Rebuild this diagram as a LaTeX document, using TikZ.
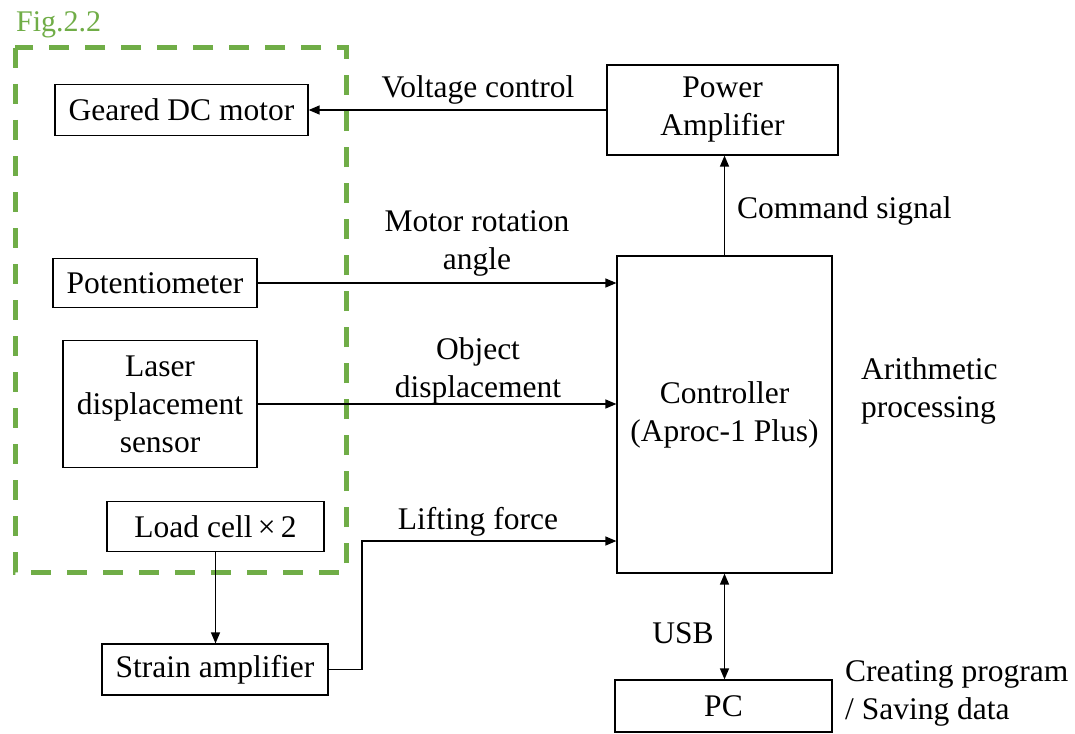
\documentclass[tikz,border=0pt]{standalone}
\usepackage{fontspec}
\setmainfont{Liberation Serif}
\usetikzlibrary{arrows.meta}
\definecolor{figgreen}{RGB}{112,173,71}
\begin{document}
\begin{tikzpicture}[x=1pt,y=-1pt,
  every node/.style={font=\fontsize{31.5}{38}\selectfont},
  blk/.style={draw,line width=1.2pt,inner sep=0pt,align=center},
  lbl/.style={inner sep=0pt,align=center},
  arr/.style={line width=1.3pt,-{Triangle[length=11pt,width=9pt]}},
  darr/.style={line width=1.3pt,{Triangle[length=11pt,width=9pt]}-{Triangle[length=11pt,width=9pt]}},
  grp/.style={draw=figgreen,line width=5pt,dash pattern=on 20pt off 16pt}]
\useasboundingbox (0,0) rectangle (1075,733);
\fill[white] (0,0) rectangle (1075,733);
% group
\draw[grp] (15,48) rectangle (346,572);
\node[lbl,anchor=base west,text=figgreen,font=\fontsize{30}{36}\selectfont] (fig) at (16,32) {Fig.2.2};
% blocks
\node[blk,minimum width=253pt,minimum height=51pt] (motor) at (181.5,110) {Geared DC motor};
\node[blk,minimum width=231pt,minimum height=90pt] (pa) at (722.5,110) {Power\\Amplifier};
\node[blk,minimum width=204pt,minimum height=49pt] (pot) at (155,283) {Potentiometer};
\node[blk,minimum width=194pt,minimum height=127pt] (laser) at (160,404) {Laser\\displacement\\sensor};
\node[blk,minimum width=217pt,minimum height=50pt] (load) at (215.5,526.5) {Load cell\,×\,2};
\node[blk,minimum width=226pt,minimum height=51pt] (strain) at (215,669.5) {Strain amplifier};
\node[blk,minimum width=215pt,minimum height=317pt] (ctrl) at (724.5,414.5) {Controller\\(Aproc-1 Plus)};
\node[blk,minimum width=217pt,minimum height=52pt] (pc) at (723.5,706) {PC};
% connectors
\draw[arr] (pa.west) -- (motor.east);
\draw[arr] (ctrl.north) -- (ctrl.north |- pa.south);
\draw[arr] (pot.east) -- (pot.east -| ctrl.west);
\draw[arr] (laser.east) -- (laser.east -| ctrl.west);
\draw[arr] (load.south) -- (load.south |- strain.north);
\coordinate (bend) at (362,541);
\draw[arr] (strain.east) -| (bend) -- (bend -| ctrl.west);
\draw[darr] (ctrl.south) -- (ctrl.south |- pc.north);
% labels
\node[lbl,anchor=base] (lv) at (478,98) {Voltage control};
\node[lbl,anchor=base west] (lc) at (737,218) {Command signal};
\node[lbl,anchor=base] (lm) at (477,269) {Motor rotation\\angle};
\node[lbl,anchor=base] (lo) at (478,397) {Object\\displacement};
\node[lbl,anchor=base] (ll) at (478,529) {Lifting force};
\node[lbl,anchor=base] (lu) at (683,643) {USB};
\node[lbl,anchor=base west,align=left] (la) at (861,417) {Arithmetic\\processing};
\node[lbl,anchor=base west,align=left] (lp) at (845,719) {Creating program\\/ Saving data};
\end{tikzpicture}
\end{document}
